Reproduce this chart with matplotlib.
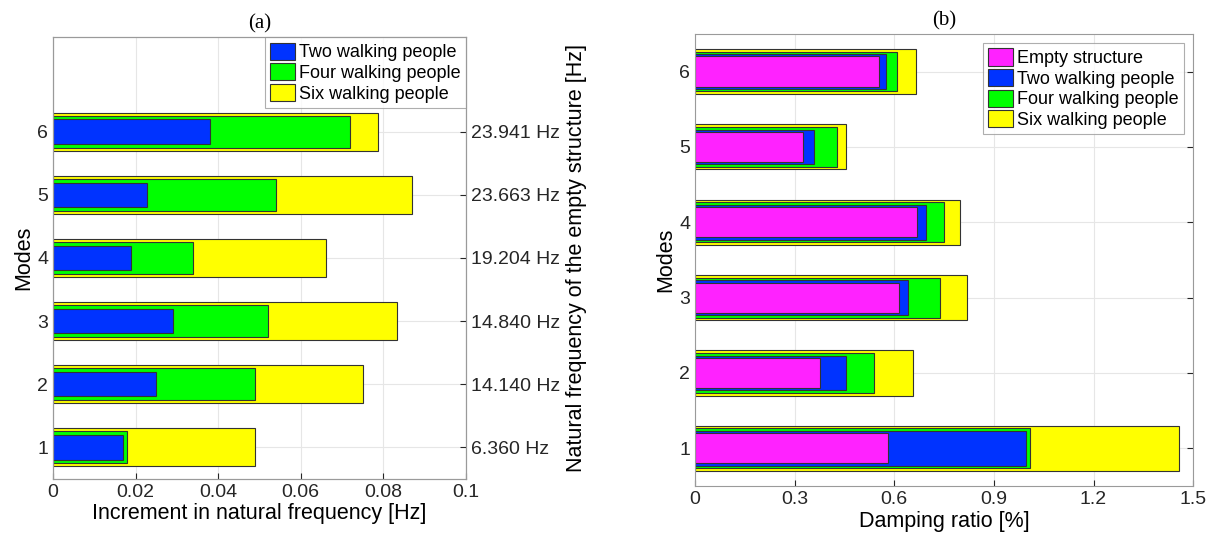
import matplotlib
matplotlib.use('Agg')
import matplotlib.pyplot as plt

plt.rcParams['font.family'] = 'Liberation Sans'

modes = [1, 2, 3, 4, 5, 6]
freq_labels = ['6.360 Hz', '14.140 Hz', '14.840 Hz', '19.204 Hz', '23.663 Hz', '23.941 Hz']

# (a) increment in natural frequency [Hz]
inc_two = [0.0169, 0.025, 0.029, 0.019, 0.0227, 0.038]
inc_four = [0.018, 0.049, 0.052, 0.034, 0.054, 0.072]
inc_six = [0.049, 0.0752, 0.0832, 0.0661, 0.0869, 0.0788]

# (b) damping ratio [%]
damp_empty = [0.582, 0.376, 0.615, 0.669, 0.324, 0.553]
damp_two = [0.997, 0.456, 0.641, 0.695, 0.358, 0.575]
damp_four = [1.009, 0.538, 0.739, 0.750, 0.428, 0.609]
damp_six = [1.457, 0.657, 0.818, 0.798, 0.455, 0.665]

c_mag = '#ff22ff'
c_blue = '#0033ff'
c_green = '#00ff00'
c_yellow = '#ffff00'
edge = '#333333'

fig = plt.figure(figsize=(12.18, 5.46), dpi=100)

def style(ax):
    ax.grid(True, color='#e6e6e6', linewidth=0.8)
    ax.set_axisbelow(True)
    for s in ax.spines.values():
        s.set_color('#9a9a9a')
    ax.tick_params(direction='in', labelsize=14, colors='#262626', length=4)

# panel (a)
ax1 = fig.add_axes([0.0435, 0.123, 0.339, 0.809])
ax1.barh(modes, inc_six, height=0.6, color=c_yellow, edgecolor=edge, linewidth=0.8, label='Six walking people')
ax1.barh(modes, inc_four, height=0.51, color=c_green, edgecolor=edge, linewidth=0.8, label='Four walking people')
ax1.barh(modes, inc_two, height=0.39, color=c_blue, edgecolor=edge, linewidth=0.8, label='Two walking people')
ax1.set_xlim(0, 0.1)
ax1.set_ylim(0.5, 7.5)
ax1.set_xticks([0, 0.02, 0.04, 0.06, 0.08, 0.1])
ax1.set_xticklabels(['0', '0.02', '0.04', '0.06', '0.08', '0.1'])
ax1.set_yticks(modes)
style(ax1)
ax1.set_xlabel('Increment in natural frequency [Hz]', fontsize=15.5, labelpad=2)
ax1.set_ylabel('Modes', fontsize=15.5, labelpad=2)
ax1.set_title('(a)', fontsize=15, family='Liberation Serif', pad=6)
h, l = ax1.get_legend_handles_labels()
leg = ax1.legend(h[::-1], l[::-1], loc='upper right', fontsize=13, borderaxespad=0,
                 fancybox=False, edgecolor='#9a9a9a', handlelength=1.4, handleheight=1.1,
                 handletextpad=0.2, labelspacing=0.1, borderpad=0.3)
leg.get_frame().set_linewidth(0.8)

ax1r = ax1.twinx()
ax1r.set_ylim(0.5, 7.5)
ax1r.set_yticks(modes)
ax1r.set_yticklabels(freq_labels)
ax1r.tick_params(direction='in', labelsize=14, colors='#262626', length=4)
for s in ax1r.spines.values():
    s.set_color('#9a9a9a')
ax1r.set_ylabel('Natural frequency of the empty structure [Hz]', fontsize=15.5, labelpad=4)

# panel (b)
ax2 = fig.add_axes([0.5706, 0.11, 0.409, 0.828])
ax2.barh(modes, damp_six, height=0.6, color=c_yellow, edgecolor=edge, linewidth=0.8, label='Six walking people')
ax2.barh(modes, damp_four, height=0.53, color=c_green, edgecolor=edge, linewidth=0.8, label='Four walking people')
ax2.barh(modes, damp_two, height=0.46, color=c_blue, edgecolor=edge, linewidth=0.8, label='Two walking people')
ax2.barh(modes, damp_empty, height=0.4, color=c_mag, edgecolor=edge, linewidth=0.8, label='Empty structure')
ax2.set_xlim(0, 1.5)
ax2.set_ylim(0.5, 6.5)
ax2.set_xticks([0, 0.3, 0.6, 0.9, 1.2, 1.5])
ax2.set_xticklabels(['0', '0.3', '0.6', '0.9', '1.2', '1.5'])
ax2.set_yticks(modes)
style(ax2)
ax2.tick_params(right=True)
ax2.set_xlabel('Damping ratio [%]', fontsize=15.5, labelpad=2)
ax2.set_ylabel('Modes', fontsize=15.5, labelpad=2)
ax2.set_title('(b)', fontsize=15, family='Liberation Serif', pad=6)
h, l = ax2.get_legend_handles_labels()
leg = ax2.legend(h[::-1], l[::-1], loc='upper right', fontsize=13, borderaxespad=0.5,
                 fancybox=False, edgecolor='#9a9a9a', handlelength=1.4, handleheight=1.1,
                 handletextpad=0.2, labelspacing=0.1, borderpad=0.3)
leg.get_frame().set_linewidth(0.8)

fig.savefig('out.png', dpi=100)
